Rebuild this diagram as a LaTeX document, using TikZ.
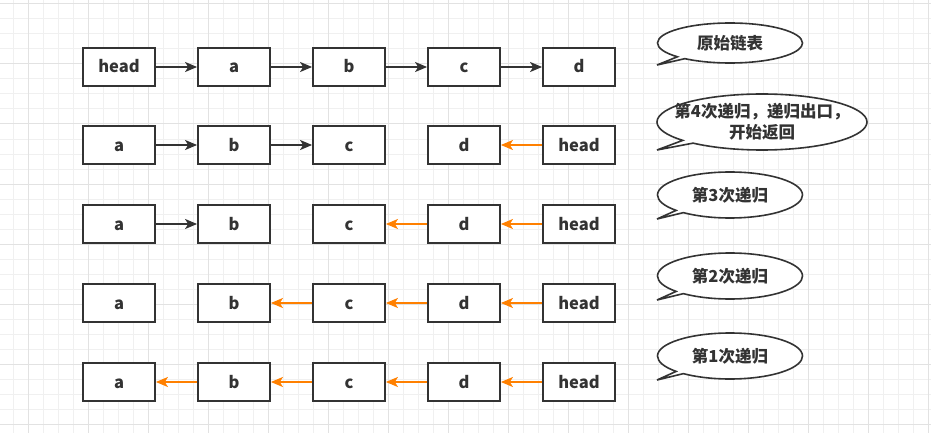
\documentclass[tikz,border=0pt]{standalone}
\usepackage{fontspec}
\setmainfont{Noto Sans CJK SC}
\usetikzlibrary{arrows.meta, shapes.callouts}

\definecolor{ink}{HTML}{333333}
\definecolor{back}{HTML}{FF8000}
\definecolor{gridminor}{HTML}{F0F0F0}
\definecolor{gridmajor}{HTML}{E2E2E2}

\tikzset{
  cell/.style={draw=ink, line width=1.8, fill=white, minimum width=72, minimum height=38,
    inner sep=0, text height=12, text depth=0, text=ink,
    font=\fontsize{16.5}{20}\selectfont\bfseries},
  fwd/.style={draw=ink, line width=1.6, -{Stealth[length=12, width=10, inset=3]}},
  rev/.style={draw=back, line width=1.6, -{Stealth[length=12, width=10, inset=3]}},
  note/.style={ellipse callout, draw=ink, line width=1.6, fill=white, inner sep=0,
    callout pointer arc=8, text=ink, align=center,
    font=\fontsize{16.5}{21}\selectfont\bfseries}
}

\begin{document}
\begin{tikzpicture}[x=1pt, y=-1pt]
  \useasboundingbox (0,0) rectangle (931,433);
  \fill[white] (0,0) rectangle (931,433);
  % grid
  \foreach \x in {13,28,...,931} \draw[gridminor, line width=1] (\x,0) -- (\x,433);
  \foreach \y in {4,19,...,433} \draw[gridminor, line width=1] (0,\y) -- (931,\y);
  \foreach \x in {28,88,...,931} \draw[gridmajor, line width=1] (\x,0) -- (\x,433);
  \foreach \y in {4,64,...,433} \draw[gridmajor, line width=1] (0,\y) -- (931,\y);

  % original list
  \foreach \i/\x/\t in {1/119/head,2/234/a,3/349/b,4/464/c,5/579/d}
    \node[cell] (n1\i) at (\x,67) {\t};
  % recursion steps
  \foreach \r/\y in {2/145,3/224,4/303,5/382}
    \foreach \i/\x/\t in {1/119/a,2/234/b,3/349/c,4/464/d,5/579/head}
      \node[cell] (n\r\i) at (\x,\y) {\t};

  \foreach \r/\i/\j in {1/1/2,1/2/3,1/3/4,1/4/5,2/1/2,2/2/3,3/1/2}
    \draw[fwd] (n\r\i) -- (n\r\j);
  \foreach \r/\i/\j in {2/5/4,3/5/4,3/4/3,4/5/4,4/4/3,4/3/2,5/5/4,5/4/3,5/3/2,5/2/1}
    \draw[rev] (n\r\i) -- (n\r\j);

  % callouts
  \coordinate (p1) at (657,65);
  \coordinate (p2) at (657,150);
  \coordinate (p3) at (657,219);
  \coordinate (p4) at (657,300);
  \coordinate (p5) at (657,380);
  \node[note, minimum width=145, minimum height=40, callout absolute pointer={(p1)}] (t1) at (730,43) {原始链表};
  \node[note, minimum width=210, minimum height=56, inner xsep=-14, inner ysep=1,
    callout absolute pointer={(p2)}] (t2) at (762,122) {第4次递归，递归出口，\\开始返回};
  \node[note, minimum width=145, minimum height=46, callout absolute pointer={(p3)}] (t3) at (730,195) {第3次递归};
  \node[note, minimum width=145, minimum height=46, callout absolute pointer={(p4)}] (t4) at (730,276) {第2次递归};
  \node[note, minimum width=145, minimum height=46, callout absolute pointer={(p5)}] (t5) at (730,356) {第1次递归};
\end{tikzpicture}
\end{document}
